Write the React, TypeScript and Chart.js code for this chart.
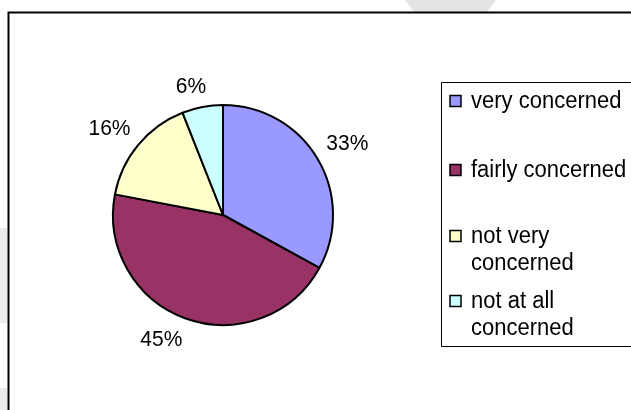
import React, { useEffect, useRef } from "react";
import { Chart, registerables } from "chart.js";

Chart.register(...registerables);

const categories: string[] = [
  "very concerned",
  "fairly concerned",
  "not very concerned",
  "not at all concerned",
];
const shares: number[] = [33, 45, 16, 6];
const sliceColors: string[] = ["#9999FF", "#993366", "#FFFFCC", "#CCFFFF"];

const FONT = '"Liberation Sans", Arial, sans-serif';
const TEXT_STRETCH = 1.06;

function drawText(ctx: CanvasRenderingContext2D, text: string, x: number, y: number) {
  ctx.save();
  ctx.translate(x, y);
  ctx.scale(1, TEXT_STRETCH);
  ctx.fillText(text, 0, 0);
  ctx.restore();
}

const backgroundPlugin = {
  id: "bgFrame",
  beforeDraw(chart: any) {
    const ctx = chart.ctx;
    ctx.save();
    ctx.fillStyle = "#ffffff";
    ctx.fillRect(0, 0, chart.width, chart.height);
    // faint watermark shapes outside the frame
    ctx.fillStyle = "#e4e4e4";
    ctx.beginPath();
    ctx.moveTo(405, 0);
    ctx.lineTo(496, 0);
    ctx.lineTo(487, 12);
    ctx.lineTo(414, 12);
    ctx.closePath();
    ctx.fill();
    ctx.fillStyle = "#ececec";
    ctx.fillRect(0, 228, 7, 95);
    ctx.fillRect(0, 388, 7, 22);
    // frame
    ctx.strokeStyle = "#000000";
    ctx.lineWidth = 2;
    ctx.beginPath();
    ctx.moveTo(8.5, chart.height + 10);
    ctx.lineTo(8.5, 12.5);
    ctx.lineTo(chart.width + 10, 12.5);
    ctx.stroke();
    ctx.restore();
  },
};

const labelPlugin = {
  id: "pctLabels",
  afterDatasetsDraw(chart: any) {
    const ctx = chart.ctx;
    const meta = chart.getDatasetMeta(0);
    const values: number[] = chart.data.datasets[0].data;
    const total = values.reduce((a, b) => a + b, 0);
    ctx.save();
    ctx.font = `21px ${FONT}`;
    ctx.fillStyle = "#000";
    ctx.textAlign = "center";
    ctx.textBaseline = "middle";
    const h = 22;
    const gap = 10;
    meta.data.forEach((arc: any, i: number) => {
      const { x, y, startAngle, endAngle, outerRadius } = arc.getProps(
        ["x", "y", "startAngle", "endAngle", "outerRadius"],
        true
      );
      const mid = (startAngle + endAngle) / 2;
      const dx = Math.cos(mid);
      const dy = Math.sin(mid);
      const text = Math.round((values[i] / total) * 100) + "%";
      const w = ctx.measureText(text).width;
      const d = outerRadius + gap;
      const ox = Math.sign(dx) * (w / 2) * Math.min(1, Math.abs(dx) / 0.3);
      const oy = Math.sign(dy) * (h / 2) * Math.min(1, Math.abs(dy) / 0.3);
      drawText(ctx, text, x + dx * d + ox, y + dy * d + oy + 1);
    });
    ctx.restore();
  },
};

const legendPlugin = {
  id: "boxLegend",
  afterDraw(chart: any) {
    const ctx = chart.ctx;
    const labels: string[] = chart.data.labels;
    const colors: string[] = chart.data.datasets[0].backgroundColor;
    const boxX = 441.5;
    const boxY = 82.5;
    const boxBottom = 346.5;
    ctx.save();
    ctx.strokeStyle = "#000";
    ctx.lineWidth = 1;
    ctx.beginPath();
    ctx.moveTo(chart.width + 10, boxY);
    ctx.lineTo(boxX, boxY);
    ctx.lineTo(boxX, boxBottom);
    ctx.lineTo(chart.width + 10, boxBottom);
    ctx.stroke();

    ctx.font = `22px ${FONT}`;
    ctx.fillStyle = "#000";
    ctx.textAlign = "left";
    ctx.textBaseline = "alphabetic";
    const firstBaselines = [25, 94, 160, 225];
    const lineH = 27;
    const maxW = 160;
    labels.forEach((lab, i) => {
      const words = lab.split(" ");
      const lines: string[] = [];
      let cur = "";
      words.forEach((wd) => {
        const t = cur ? cur + " " + wd : wd;
        if (ctx.measureText(t).width > maxW && cur) {
          lines.push(cur);
          cur = wd;
        } else cur = t;
      });
      if (cur) lines.push(cur);
      const base = boxY + firstBaselines[i];
      // swatch
      ctx.fillStyle = colors[i];
      ctx.fillRect(450, base - 12, 11, 11);
      ctx.strokeStyle = "#000";
      ctx.lineWidth = 1.5;
      ctx.strokeRect(450, base - 12, 11, 11);
      ctx.fillStyle = "#000";
      lines.forEach((ln, j) => {
        drawText(ctx, ln, 471, base + j * lineH);
      });
    });
    ctx.restore();
  },
};

export default function App() {
  const ref = useRef<HTMLCanvasElement | null>(null);
  useEffect(() => {
    if (!ref.current) return;
    const chart = new Chart(ref.current, {
      type: "pie",
      data: {
        labels: categories,
        datasets: [
          {
            data: shares,
            backgroundColor: sliceColors,
            borderColor: "#000000",
            borderWidth: 2,
          },
        ],
      },
      options: {
        responsive: false,
        animation: false,
        layout: { padding: { left: 112, right: 297, top: 104, bottom: 84 } },
        plugins: {
          legend: { display: false },
          tooltip: { enabled: false },
        },
      },
      plugins: [backgroundPlugin, labelPlugin, legendPlugin],
    });
    return () => chart.destroy();
  }, []);
  return (
    <div style={{ position: "fixed", left: 0, top: 0, width: 631, height: 410 }}>
      <canvas ref={ref} width={631} height={410} style={{ width: 631, height: 410 }} />
    </div>
  );
}
